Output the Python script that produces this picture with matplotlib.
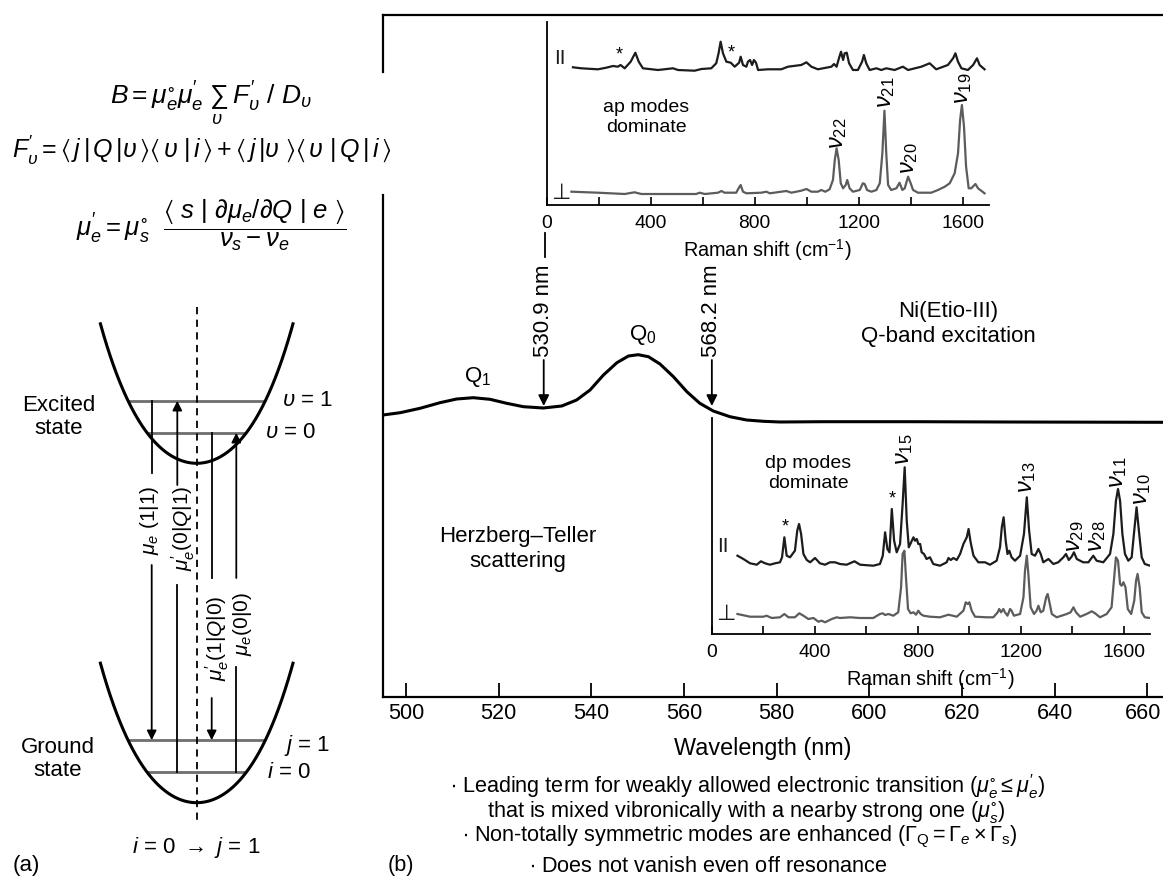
import numpy as np
import matplotlib.pyplot as plt
import matplotlib.transforms as mtransforms
from matplotlib import font_manager as fm

plt.rcParams['font.family'] = ['Liberation Sans', 'DejaVu Sans']
plt.rcParams['mathtext.fontset'] = 'custom'
plt.rcParams['mathtext.rm'] = 'Liberation Sans'
plt.rcParams['mathtext.it'] = 'Liberation Sans:italic'
plt.rcParams['mathtext.bf'] = 'Liberation Sans:bold'
plt.rcParams['mathtext.sf'] = 'Liberation Sans'
plt.rcParams['mathtext.fallback'] = 'stixsans'

# condensed face for tick labels etc, fall back to a smaller regular face
_names = {f.name for f in fm.fontManager.ttflist}
if 'Liberation Sans Narrow' in _names:
    NARROW, NS = ['Liberation Sans Narrow', 'DejaVu Sans'], 1.0
else:
    NARROW, NS = ['Liberation Sans', 'DejaVu Sans'], 0.84

W, H = 1163, 882
PAR_C = '#1c1c1c'
PERP_C = '#5c5c5c'

# ---------------- data ----------------
# Q-band absorption of Ni(Etio-III), arbitrary units
abs_wl = [495.0, 498.7, 503.0, 507.3, 510.9, 514.5, 518.1, 521.7, 525.3, 529.6,
          533.6, 536.8, 539.7, 542.6, 545.5, 548.0, 550.1, 552.3, 554.8, 557.7,
          560.6, 563.4, 566.3, 569.9, 573.5, 577.1, 580.7, 590, 610, 630, 663.4]
abs_val = [282, 284.3, 288.7, 294.3, 298, 299.3, 297.7, 293.7, 290.3, 289,
           291, 297, 307, 322, 334.3, 341, 342.3, 340.3, 333, 320.3,
           305.3, 293.7, 286, 280.3, 277, 275.7, 275, 275.3, 275.3, 275, 274.7]
exc_labels = ['530.9 nm', '568.2 nm']
exc_pos = [529.7, 566.0]

# Raman, 530.9 nm excitation (ap modes)
ap_par_cm = [101, 133, 197, 229, 255, 274, 284, 300, 323, 341, 354, 370, 428, 486, 505, 569, 595, 633, 652, 661,
             669, 678, 691, 708, 723, 740, 746, 755, 768, 774, 782, 790, 797, 805, 813, 851, 902, 928, 979, 999,
             1018, 1043, 1095, 1105, 1115, 1124, 1132, 1140, 1146, 1154, 1163, 1178, 1197, 1213, 1220, 1229, 1242, 1268, 1287, 1306,
             1338, 1370, 1390, 1441, 1473, 1498, 1543, 1563, 1572, 1582, 1595, 1620, 1640, 1655, 1665, 1684]
ap_par_int = [137.7, 136.7, 135.7, 137.3, 139, 138.3, 140, 136.7, 143.3, 152.3, 143.3, 136.7, 135, 136.7, 135, 134.3, 136, 136.7, 141.7, 151.7,
              163.3, 151.7, 143.3, 142.3, 138.3, 142.3, 148.3, 140, 138.3, 143.3, 145, 140, 145, 142.3, 135, 135.7, 135.7, 138.3, 140, 142.7,
              138.3, 135.7, 138.3, 141, 138.3, 146.7, 153.3, 145, 151.7, 152.3, 141.7, 135, 135, 143.3, 150, 141.7, 135, 136.7, 135, 136.7,
              135, 138.3, 135, 138.3, 141.7, 135.7, 140, 146.7, 151.7, 143.3, 136.7, 135, 140, 146.7, 140, 135.7]
ap_perp_cm = [95, 197, 300, 338, 364, 575, 588, 608, 659, 672, 684, 729, 738, 746, 755, 768, 825, 845, 858, 902,
              922, 941, 979, 999, 1018, 1043, 1056, 1072, 1088, 1101, 1108, 1115, 1123, 1131, 1140, 1150, 1156, 1165, 1178, 1204,
              1216, 1223, 1232, 1249, 1268, 1281, 1291, 1299, 1306, 1313, 1325, 1345, 1357, 1368, 1377, 1390, 1400, 1409, 1428, 1479,
              1505, 1531, 1550, 1569, 1582, 1590, 1597, 1605, 1613, 1623, 1633, 1649, 1659, 1684]
ap_perp_int = [13.3, 12.3, 11, 12.7, 11, 11, 12.3, 11, 12.3, 14, 12.3, 12.3, 16.7, 20, 13.3, 11.7, 12.3, 13.3, 11.7, 13.3,
               14, 12.3, 14.3, 16, 13.3, 13.3, 15, 13.3, 15.7, 25, 45, 56.7, 45, 21.7, 16.7, 20, 25, 16.7, 13.3, 15,
               21.7, 21, 15, 13.3, 15, 21.7, 51.7, 94.3, 51.7, 20, 15, 16.7, 22.3, 15, 16.7, 28.3, 21.7, 15, 12.3, 12.3,
               15, 18.3, 21.7, 31.7, 51.7, 85, 100, 78.3, 38.3, 16.7, 16.7, 21, 16.7, 11.7]

# Raman, 568.2 nm excitation (dp modes)
dp_par_cm = [100, 123, 149, 175, 191, 207, 226, 246, 265, 273, 282, 291, 304, 323, 332, 339, 347, 356, 369, 382,
             401, 420, 440, 459, 479, 498, 524, 554, 576, 627, 653, 664, 673, 682, 690, 699, 708, 718, 731, 741,
             749, 757, 765, 774, 783, 789, 796, 802, 809, 815, 824, 834, 847, 860, 886, 912, 919, 928, 938, 951,
             964, 977, 990, 997, 1005, 1016, 1035, 1061, 1080, 1106, 1119, 1126, 1133, 1141, 1148, 1155, 1164, 1177, 1197, 1212,
             1223, 1232, 1242, 1255, 1268, 1277, 1287, 1307, 1326, 1345, 1365, 1375, 1386, 1397, 1406, 1417, 1442, 1462, 1481, 1494,
             1520, 1546, 1559, 1569, 1577, 1585, 1594, 1604, 1617, 1630, 1640, 1649, 1658, 1669, 1681, 1701]
dp_par_int = [78.3, 75, 70.7, 69.3, 72.7, 70.7, 69.3, 70.7, 71.7, 76.7, 96.7, 78.3, 76.7, 83.3, 103.3, 110, 100, 80, 74, 71.7,
              76, 70.7, 69.3, 71.7, 71.7, 70, 69.3, 72.7, 69.3, 68.3, 70, 78.3, 101.7, 85, 81.7, 125, 93.3, 81.7, 90, 130,
              166.7, 113.3, 86.7, 91.7, 96.7, 93.3, 95, 90, 90, 81.7, 80, 75, 76.7, 70, 68.3, 71.7, 76, 74, 76, 74,
              80, 90, 96.7, 105, 91.7, 78.3, 71.7, 71.7, 69.3, 73.3, 86.7, 106.7, 116.7, 93.3, 80, 83.3, 76.7, 73.3, 78.3, 100,
              136.7, 103.3, 80, 78.3, 85, 80, 71.7, 75, 70, 71.7, 76.7, 80, 74, 77.3, 81.7, 75, 71.7, 71.7, 78.3, 73.3,
              71.7, 80, 100, 133.3, 145, 133.3, 100, 80, 73.3, 76.7, 103.3, 126.7, 103.3, 76.7, 70, 68.3]
dp_perp_cm = [100, 149, 201, 213, 233, 265, 282, 298, 323, 340, 356, 375, 395, 414, 427, 440, 466, 485, 498, 537,
              576, 627, 653, 664, 673, 686, 705, 724, 735, 741, 748, 754, 762, 772, 783, 793, 802, 811, 822, 847,
              886, 919, 951, 977, 986, 994, 1000, 1009, 1022, 1067, 1093, 1110, 1116, 1123, 1132, 1138, 1148, 1158, 1164, 1173,
              1197, 1210, 1216, 1223, 1229, 1238, 1251, 1261, 1268, 1277, 1287, 1298, 1304, 1311, 1320, 1339, 1358, 1378, 1393, 1404,
              1414, 1430, 1455, 1475, 1488, 1507, 1533, 1552, 1561, 1569, 1577, 1585, 1591, 1598, 1606, 1615, 1628, 1640, 1647, 1653,
              1661, 1669, 1681, 1701]
dp_perp_int = [20, 17.3, 17.3, 18.3, 16, 16.7, 20, 16.7, 16.7, 20.7, 18.3, 15, 16, 12.3, 13.3, 11.7, 15, 16.7, 16, 16.7,
               16, 16, 20, 20.7, 19, 20, 18.3, 21.7, 46.7, 80, 83.3, 56.7, 25, 20.7, 21.7, 19.3, 23.3, 20, 18.3, 17.3,
               16.7, 19.3, 17.3, 23.3, 31.7, 30, 31.7, 23.3, 17.3, 16.7, 16.7, 21.7, 25, 21.7, 25, 21.7, 18.3, 25, 23.3, 18.3,
               20, 36.7, 63.3, 78.3, 60, 26.7, 20, 23.3, 28.3, 21.7, 23.3, 36.7, 40, 31.7, 20, 16.7, 18.3, 20, 21.7, 26.7,
               21.7, 17.3, 20, 22.7, 20.7, 16.7, 20, 26.7, 53.3, 76.7, 73.3, 50, 48.3, 51.7, 46.7, 25, 20, 33.3, 53.3, 60,
               46.7, 21.7, 16.7, 16]

ap_modes = [r'$\nu_{22}$', r'$\nu_{21}$', r'$\nu_{20}$', r'$\nu_{19}$']
ap_mode_xy = [(1120, 71.7), (1306, 113), (1393, 46.7), (1601, 117)]
ap_star_xy = [(278, 150), (710, 152)]
dp_modes = [r'$\nu_{15}$', r'$\nu_{13}$', r'$\nu_{29}$', r'$\nu_{28}$', r'$\nu_{11}$', r'$\nu_{10}$']
dp_mode_xy = [(746, 185), (1223, 157), (1410, 98), (1494, 98), (1578, 162), (1669, 145)]
dp_star_xy = [(285, 107), (699, 135)]

raman_ticks = [0, 400, 800, 1200, 1600]
raman_minor = [200, 600, 1000, 1400]
wl_ticks = list(range(500, 661, 20))

bullets = [r'$\bullet$ Leading term for weakly allowed electronic transition ($\mu_e^{\circ} \leq \mu_e^{\prime}$)',
           r'that is mixed vibronically with a nearby strong one ($\mu_s^{\circ}$)',
           r'$\bullet$ Non-totally symmetric modes are enhanced ($\mathit{\Gamma}_{\rm Q} = \mathit{\Gamma}_e \times \mathit{\Gamma}_{\rm s}$)',
           r'$\bullet$ Does not vanish even off resonance']


def fx(x):
    return x / W


def fy(y):
    return 1 - y / H


fig = plt.figure(figsize=(W / 100, H / 100), dpi=100)

# ---------------- panel (a): energy level scheme ----------------
axa = fig.add_axes([0, 0, 383 / W, 1])
axa.set_xlim(0, 383)
axa.set_ylim(H, 0)
axa.axis('off')

well_x0 = 196.7
well_min = {'excited': 463.3, 'ground': 802.7}
well_half = 96.7
c2, c4 = 0.01142, 3.91e-7
levels = [30.5, 62.5]

d = np.linspace(-well_half, well_half, 300)
for ymin in well_min.values():
    axa.plot(well_x0 + d, ymin - (c2 * d**2 + c4 * d**4), color='k', lw=2.2,
             solid_capstyle='butt')
    for lev in levels:
        dd = np.sqrt((-c2 + np.sqrt(c2**2 + 4 * c4 * lev)) / (2 * c4))
        axa.plot([well_x0 - dd, well_x0 + dd], [ymin - lev] * 2, color='#6e6e6e',
                 lw=2.0, solid_capstyle='butt', zorder=1)

v0, v1 = well_min['excited'] - levels[0], well_min['excited'] - levels[1]
i0, j1 = well_min['ground'] - levels[0], well_min['ground'] - levels[1]

axa.plot([well_x0, well_x0], [306.7, 821.7], color='k', lw=1.3, ls=(0, (4, 3)))

trans_x = [151.7, 177.3, 211.7, 236.3]
trans_from = [v1, i0, v0, i0]
trans_to = [j1, v1, j1, v0]
trans_gap = [(473, 565), (485, 585), (578, 698), (578, 667)]
trans_label = [r'$\mu_e\ (1|1)$', r'$\mu_e^{\prime}(0|Q|1)$',
               r'$\mu_e^{\prime}(1|Q|0)$', r'$\mu_e(0|0)$']
trans_label_xy = [(149, 520), (183, 528), (217, 638), (242, 624)]

for x, ya, yb, (g1, g2), lab, (lx, ly) in zip(trans_x, trans_from, trans_to, trans_gap,
                                              trans_label, trans_label_xy):
    if ya < yb:
        plain, arrow = (ya, g1), (g2, yb)
    else:
        plain, arrow = (ya, g2), (g1, yb)
    axa.plot([x, x], plain, color='k', lw=1.3)
    axa.annotate('', xy=(x, arrow[1]), xytext=(x, arrow[0]),
                 arrowprops=dict(arrowstyle='-|>', color='k', lw=1.3,
                                 mutation_scale=14, shrinkA=0, shrinkB=0))
    axa.text(lx, ly, lab, rotation=90, ha='center', va='center', fontsize=15)

axa.text(59, 417, 'Excited\nstate', ha='center', va='center', fontsize=16,
         linespacing=1.15)
axa.text(58, 759, 'Ground\nstate', ha='center', va='center', fontsize=16,
         linespacing=1.15)
axa.text(282, 400, r'$\upsilon$ = 1', ha='left', va='center', fontsize=16)
axa.text(265, 433, r'$\upsilon$ = 0', ha='left', va='center', fontsize=16)
axa.text(284, 745, r'$j$ = 1', ha='left', va='center', fontsize=16)
axa.text(267, 773, r'$i$ = 0', ha='left', va='center', fontsize=16)
axa.text(196, 847, r'$i$ = 0 $\rightarrow$ $j$ = 1', ha='center', va='center',
         fontsize=16)
axa.text(13, 866, '(a)', ha='left', va='center', fontsize=16)

axa.text(211, 103, r'$B = \mu_e^{\circ}\mu_e^{\prime}\ \sum_{\upsilon}\ F_{\upsilon}^{\prime}\ /\ D_{\upsilon}$',
         ha='center', va='center', fontsize=19)
axa.text(202, 150, r'$F_{\upsilon}^{\prime} = \langle\, j\,|\,Q\,|\upsilon\,\rangle\langle\,\upsilon\ |\,i\,\rangle + \langle\, j\,|\upsilon\ \rangle\langle\,\upsilon\ |\,Q\,|\,i\,\rangle$',
         ha='center', va='center', fontsize=18)
axa.text(211, 225, r'$\mu_e^{\prime} = \mu_s^{\circ}\ \ \dfrac{\langle\ s\ |\ \partial\mu_e/\partial Q\ |\ e\ \rangle}{\nu_s - \nu_e}$',
         ha='center', va='center', fontsize=18.5)

# ---------------- panel (b): absorption with excitation lines ----------------
ax = fig.add_axes([fx(383), fy(697), (W - 383) / W, 682 / H])
ax.set_facecolor('none')
ax.plot(abs_wl, abs_val, color='k', lw=2.2)
ax.set_xlim(495.0, 663.4)
ax.set_ylim(0, 682)
ax.spines['right'].set_visible(False)
ax.spines['left'].set_visible(False)
for s in ('top', 'bottom'):
    ax.spines[s].set_linewidth(1.6)
ax.axvline(495.0, ymin=0, ymax=0.736, color='k', lw=1.6, clip_on=False)
ax.axvline(495.0, ymin=0.916, ymax=1, color='k', lw=1.6, clip_on=False)
ax.set_yticks([])
ax.set_xticks(wl_ticks, [str(t) for t in wl_ticks], fontfamily=NARROW,
              fontsize=18.5 * NS)
ax.tick_params(axis='x', direction='in', length=10, width=1.3, pad=4)
# last label sits against the right edge, as in the original
last = ax.get_xticklabels()[-1]
last.set_transform(last.get_transform() +
                   mtransforms.ScaledTranslation(-4 / 100, 0, fig.dpi_scale_trans))

for lab, x in zip(exc_labels, exc_pos):
    ax.annotate('', xy=(x, 291), xytext=(x, 337),
                arrowprops=dict(arrowstyle='-|>', color='k', lw=1.3,
                                mutation_scale=16, shrinkA=0, shrinkB=0))
    ax.text(x, 340, lab, rotation=90, ha='center', va='bottom', fontsize=16)
ax.plot([exc_pos[0] + 0.2] * 2, [440, 464], color='k', lw=1.3)

ax.text(515.5, 320, r'Q$_1$', ha='center', va='center', fontsize=16)
ax.text(551.1, 362, r'Q$_0$', ha='center', va='center', fontsize=16)
ax.text(617, 373, 'Ni(Etio-III)\nQ-band excitation', ha='center', va='center',
        fontsize=16, linespacing=1.25)
ax.text(524.2, 148, 'Herzberg\u2013Teller\nscattering', ha='center', va='center',
        fontsize=16, linespacing=1.25)

fig.text(fx(763), fy(748), 'Wavelength (nm)', ha='center', va='center',
         fontfamily=NARROW, fontsize=20 * NS)
for txt, xc, yc in zip(bullets, [748, 746, 740, 708], [787, 812, 837, 866]):
    fig.text(fx(xc), fy(yc), txt, ha='center', va='center', fontfamily=NARROW,
             fontsize=18.5 * NS)
fig.text(fx(388), fy(866), '(b)', ha='left', va='center', fontfamily=NARROW,
         fontsize=18.5 * NS)


# ---------------- Raman insets ----------------
def raman_inset(rect, ytop, par, perp, modes, mode_xy, stars, note, note_xy,
                par_lab_xy, perp_lab_xy):
    a = fig.add_axes(rect)
    a.set_facecolor('none')
    a.plot(par[0], par[1], color=PAR_C, lw=1.6)
    a.plot(perp[0], perp[1], color=PERP_C, lw=1.6)
    a.set_xlim(0, 1700)
    a.set_ylim(0, ytop)
    for s in ('top', 'right'):
        a.spines[s].set_visible(False)
    for s in ('left', 'bottom'):
        a.spines[s].set_linewidth(1.3)
    a.set_yticks([])
    a.set_xticks(raman_ticks, [str(t) for t in raman_ticks], fontfamily=NARROW,
                 fontsize=16.5 * NS)
    a.set_xticks(raman_minor, minor=True)
    a.tick_params(axis='x', which='both', direction='in', length=5.5, width=1.2,
                  pad=7)
    a.text(*par_lab_xy, 'II', ha='center', va='center', fontsize=15,
           color=PAR_C)
    a.text(*perp_lab_xy, '\u22a5', ha='center', va='center', fontsize=16,
           color=PAR_C, family=['DejaVu Sans'])
    for m, (x, y) in zip(modes, mode_xy):
        a.text(x, y, m, rotation=90, ha='center', va='center', fontsize=17)
    for x, y in stars:
        a.text(x, y, '*', ha='center', va='center', fontsize=13)
    a.text(*note_xy, note, ha='center', va='center', fontsize=14,
           linespacing=1.2)
    a.set_xlabel('Raman shift (cm$^{-1}$)', fontfamily=NARROW, fontsize=17 * NS,
                 labelpad=4)
    return a


raman_inset([546.7 / W, fy(205), 442 / W, 183 / H], 183,
            (ap_par_cm, ap_par_int), (ap_perp_cm, ap_perp_int),
            ap_modes, ap_mode_xy, ap_star_xy, 'ap modes\ndominate', (383, 87.5),
            (50, 146.7), (54, 12.3))
raman_inset([711.7 / W, fy(634), 438 / W, 216 / H], 216,
            (dp_par_cm, dp_par_int), (dp_perp_cm, dp_perp_int),
            dp_modes, dp_mode_xy, dp_star_xy, 'dp modes\ndominate', (375, 160.5),
            (43, 87.3), (54, 20))

fig.savefig('out.png', dpi=100)
